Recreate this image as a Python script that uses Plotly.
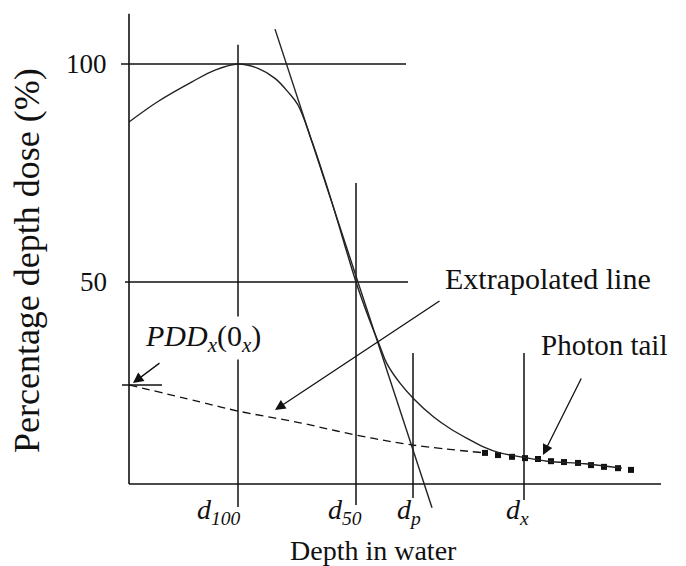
import plotly.graph_objects as go

# ---------------- data (schematic) ----------------
# depth in arbitrary units (cm), dose in %
pdd_depth = [0.0, 0.725, 1.575, 2.15, 2.725, 3.225, 3.65, 3.975, 4.225, 4.575,
             5.025, 5.675, 5.975, 6.275, 6.44, 6.775, 7.11, 7.61, 8.025, 8.44,
             8.86, 9.275, 9.86, 10.45, 11.4, 12.325]
pdd_value = [86.7, 91.4, 95.9, 98.6, 100.0, 99.0, 96.7, 93.6, 90.6, 82.2,
             69.7, 50.0, 42.2, 35.2, 31.4, 26.8, 23.3, 19.1, 16.4, 14.2,
             12.2, 10.8, 9.8, 8.9, 8.3, 7.3]

tangent_depth = [3.65, 7.575]
tangent_value = [108.0, -1.8]

extrap_depth = [0.0, 1.775, 2.725, 4.275, 5.675, 7.1, 8.9]
extrap_value = [26.4, 22.5, 20.4, 17.7, 14.9, 12.6, 10.8]

tail_depth = [8.9, 9.225, 9.575, 9.9, 10.225, 10.55, 10.875, 11.225, 11.55,
              11.875, 12.225, 12.55]
tail_value = [10.8, 10.3, 9.9, 9.6, 9.4, 8.9, 8.7, 8.5, 8.0, 7.6, 7.3, 6.9]

# characteristic depths and their marker line extents
char_labels = ["d<sub>100</sub>", "d<sub>50</sub>", "d<sub>p</sub>", "d<sub>x</sub>"]
char_depth = [2.725, 5.675, 7.1, 9.875]
char_top = [104.4, 72.7, 33.7, 33.7]
char_bottom = [-1.6, -1.15, 0.46, 0.0]

y_ticks = [100, 50]
y_tick_labels = ["100", "50"]
hline_start = [-0.2, -0.1]
hline_end = [6.925, 6.975]

axis_x_end = 13.3
axis_y_top = 111.5
axis_y_bottom = 3.67

pdd0_value = 26.4

# ---------------- figure ----------------
INK = "#111111"
fig = go.Figure()

def line(x, y, width=1.4, dash=None, shape="linear", color=INK):
    fig.add_trace(go.Scatter(x=x, y=y, mode="lines",
                             line=dict(color=color, width=width, dash=dash, shape=shape),
                             hoverinfo="skip", showlegend=False))

# axes
line([0, 0], [axis_y_top, axis_y_bottom], width=1.6)
line([0, axis_x_end], [axis_y_bottom, axis_y_bottom], width=1.6)

# horizontal reference lines at 100 and 50
for yv, x0, x1 in zip(y_ticks, hline_start, hline_end):
    line([x0, x1], [yv, yv], width=1.5)

# vertical lines at characteristic depths
for xv, t, b in zip(char_depth, char_top, char_bottom):
    line([xv, xv], [t, b], width=1.5)

# PDD_x(0_x) tick
line([-0.175, 0.825], [pdd0_value, pdd0_value], width=1.5)

# extrapolated dashed line
line(extrap_depth, extrap_value, width=1.3, dash="8px,5px", shape="spline")

# photon tail (squares)
fig.add_trace(go.Scatter(x=tail_depth, y=tail_value, mode="markers",
                         marker=dict(symbol="square", size=6, color=INK),
                         hoverinfo="skip", showlegend=False))

# PDD curve
fig.add_trace(go.Scatter(x=pdd_depth, y=pdd_value, mode="lines",
                         line=dict(color="#222222", width=1.4, shape="spline", smoothing=1.0),
                         hoverinfo="skip", showlegend=False))

# tangent
line(tangent_depth, tangent_value, width=1.4, color="#222222")

serif = "Liberation Serif"

# y tick labels
for yv, lab in zip(y_ticks, y_tick_labels):
    fig.add_annotation(x=-0.5, y=yv, text=lab, showarrow=False, xanchor="right",
                       yanchor="middle", font=dict(family=serif, size=27, color=INK))

# characteristic depth labels
label_x = [2.25, 5.4, 7.0, 9.72]
for lx, lab in zip(label_x, char_labels):
    fig.add_annotation(x=lx, y=-2.6, text="<i>" + lab + "</i>", showarrow=False,
                       xanchor="center", yanchor="middle",
                       font=dict(family=serif, size=28, color=INK))

# axis titles
fig.add_annotation(x=6.1, y=-11.6, text="Depth in water", showarrow=False,
                   xanchor="center", yanchor="middle",
                   font=dict(family=serif, size=28, color=INK))
fig.add_annotation(x=-2.55, y=54.8, text="Percentage depth dose (%)", showarrow=False,
                   textangle=-90, xanchor="center", yanchor="middle",
                   font=dict(family=serif, size=36, color=INK))

# text labels
fig.add_annotation(x=7.85, y=50.9, text="Extrapolated line", showarrow=False,
                   xanchor="left", yanchor="middle",
                   font=dict(family=serif, size=30, color=INK))
fig.add_annotation(x=10.25, y=35.5, text="Photon tail", showarrow=False,
                   xanchor="left", yanchor="middle",
                   font=dict(family=serif, size=29, color=INK))
fig.add_annotation(x=1.85, y=37.2, text="<i>PDD<sub>x</sub></i>(0<sub><i>x</i></sub>)",
                   showarrow=False, xanchor="center", yanchor="middle",
                   bgcolor="white", borderpad=2,
                   font=dict(family=serif, size=30, color=INK))

# arrows
arrows = [
    ((441 - 129) / 40, (500 - 300) / 4.36, (275 - 129) / 40, (500 - 410) / 4.36),
    ((582 - 129) / 40, (500 - 377) / 4.36, (543 - 129) / 40, (500 - 455) / 4.36),
    ((161 - 129) / 40, (500 - 362) / 4.36, (133 - 129) / 40, (500 - 383) / 4.36),
]
for x0, y0, x1, y1 in arrows:
    fig.add_annotation(x=x1, y=y1, ax=x0, ay=y0, xref="x", yref="y", axref="x", ayref="y",
                       text="", showarrow=True, arrowhead=2, arrowsize=1.6,
                       arrowwidth=1.3, arrowcolor=INK)

# the page body has an 8px margin, so the figure is 8px smaller and shifted
fig.update_layout(
    width=678, height=558, autosize=False,
    margin=dict(l=0, r=0, t=0, b=0),
    paper_bgcolor="white", plot_bgcolor="white",
    xaxis=dict(range=[-3.025, 13.925], visible=False, fixedrange=True),
    yaxis=dict(range=[-15.14, 112.84], visible=False, fixedrange=True),
    showlegend=False,
)

fig.write_html("out.html")
